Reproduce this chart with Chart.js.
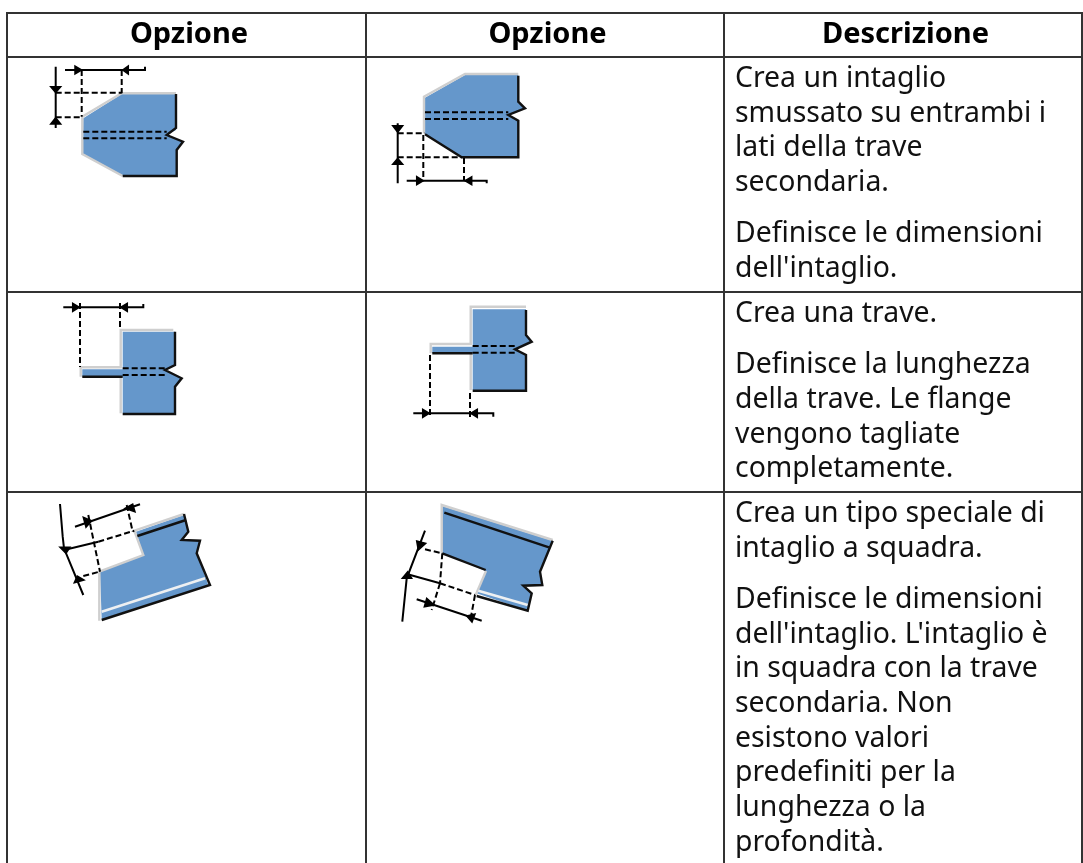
<!DOCTYPE html>
<html>
<head>
<meta charset="utf-8">
<title>Opzione</title>
<script src="https://cdn.jsdelivr.net/npm/chart.js@4/dist/chart.umd.min.js"></script>
<style>
  html, body { margin: 0; padding: 0; background: #fff; overflow: hidden; }
  #page { position: relative; width: 1083px; height: 863px; overflow: hidden; }
  #grid { position: absolute; left: 6px; top: 12px; border-collapse: collapse; table-layout: fixed; width: 1075px;
          font-family: "Noto Sans", sans-serif; font-size: 28.4px; line-height: 34.7px; color: #111; filter: blur(0.3px); }
  #grid th, #grid td { border: 2px solid #333; padding: 0; vertical-align: top; overflow: hidden; }
  #grid th { font-weight: bold; font-size: 29px; text-align: center; height: 42px; line-height: 35px; color: #000; padding-left: 5px; }
  #grid td p { margin: 16.5px 0 0 10px; white-space: nowrap; }
  #grid td p:first-child { margin-top: 1px; }
  #chart { position: absolute; left: 0; top: 0; filter: blur(0.5px); }
</style>
</head>
<body>
<div id="page">
  <table id="grid"></table>
  <canvas id="chart" width="1083" height="863"></canvas>
</div>
<script>
// Table text
const headers = ["Opzione", "Opzione", "Descrizione"];
const columnWidths = [359, 358, 358];
const rowHeights = [235, 200, 400];
const descriptions = [
  [["Crea un intaglio", "smussato su entrambi i", "lati della trave", "secondaria."],
   ["Definisce le dimensioni", "dell'intaglio."]],
  [["Crea una trave."],
   ["Definisce la lunghezza", "della trave. Le flange", "vengono tagliate", "completamente."]],
  [["Crea un tipo speciale di", "intaglio a squadra."],
   ["Definisce le dimensioni", "dell'intaglio. L'intaglio è", "in squadra con la trave", "secondaria. Non", "esistono valori", "predefiniti per la", "lunghezza o la", "profondità."]]
];

// Blue beam bodies, one per diagram
const beamBodies = [
  [[83.3,118.3],[121.7,94],[176,94],[176,130],[166.7,135],[183.3,141.7],[176.7,150],[176.7,176],[122.7,176],[82.7,154]],
  [[425,97.7],[465,75],[518.3,75],[518.3,103.3],[525,108.3],[508.3,115],[518.3,120.7],[518.3,156.7],[461.7,156.7],[425,134.3]],
  [[122.7,331.7],[175,331.7],[175,365],[165,370],[181.7,378.3],[175,386.7],[175,413.3],[122.7,413.3],[122.7,376.7],[82.3,376.7],[82.3,369.3],[122.7,369.3]],
  [[472.7,309.3],[526,309.3],[526,335],[531.7,341.7],[515,349.3],[526,355],[526,390],[472.7,390],[472.7,353.3],[432.3,353.3],[432.3,346.7],[472.7,346.7]],
  [[136,531.7],[184,515],[188.3,531.7],[181.7,540],[200,540.7],[196.7,553.3],[208.3,585],[101.7,619.3],[100,571.7],[143.3,555]],
  [[442.3,506],[552.7,540.7],[539,571.7],[542.3,585],[523.3,585.7],[531.7,593.3],[527.7,610.7],[476.7,593.3],[485.7,571],[442.3,553.3]]
];

// Light highlight edges
const lightEdges = [
  [[176,93.3],[121.7,93.3],[82.3,116.7],[82.3,154],[122.7,176]],
  [[518.3,74],[465,74],[424,96.7],[424,133.3]],
  [[120.7,413.3],[120.7,376.7]],
  [[80.7,376.7],[80.7,367.3],[120.7,367.3],[120.7,330],[173.3,330]],
  [[470.7,390],[470.7,354]],
  [[430.7,353.3],[430.7,344],[470.7,344],[470.7,306.7],[526,306.7]],
  [[184,514],[134.3,530.7],[143.3,555],[99.3,571.7],[99.3,620.7]],
  [[441.7,553.3],[441.7,505],[552.7,540]],
  [[486,571],[475.7,595]]
];

// White stripes across the rotated beams
const whiteStripes = [
  [[101.7,611.7],[205,578.3]],
  [[478.3,590.7],[527.7,605]]
];

// Dark shadow edges and flange lines
const darkEdges = [
  [[176,94],[176,128],[166.7,135],[183,141.7],[176.7,150],[176.7,176],[122.7,176]],
  [[518.3,75.7],[518.3,101.7],[525,108.3],[508.3,115],[518.3,120.7],[518.3,157.3],[461.7,157.3],[425,134.3]],
  [[175,331.7],[175,365],[165,370],[181.7,378.3],[175,386.7],[175,414],[122.7,414]],
  [[82.3,376.7],[122.7,376.7]],
  [[526,310],[526,335],[531.7,341.7],[515,349.3],[526,355],[526,390.7],[472.7,390.7]],
  [[432.3,353.3],[472.7,353.3]],
  [[137.3,536],[186,520]],
  [[184,514],[188.3,531.7],[181.7,540],[200,540.7],[196.7,553.3],[210,585],[101.7,620]],
  [[444.3,512.7],[549,547.3]],
  [[442.3,553.3],[485.7,570]],
  [[552.7,540.7],[540,571.7],[542.3,585],[523.3,585.7],[531.7,593.3],[527.7,610.7],[476.7,596]]
];

// Dimension lines
const dimLines = [
  [[55.7,66.7],[55.7,128]],
  [[65,70],[145,70],[145,66.7]],
  [[397.7,123.3],[397.7,183.3]],
  [[406.7,180.7],[486.7,180.7],[486.7,183.3]],
  [[63.3,307.3],[143.3,307.3],[143.3,304]],
  [[413.3,413.3],[493.3,413.3],[493.3,416.7]],
  [[60,504],[62.7,536.7],[64,548.3],[83.3,595]],
  [[75,526.7],[140,504.3]],
  [[64,550],[98.3,541.7]],
  [[425,530.7],[406.7,578.3],[402.3,621.7]],
  [[416.7,599.3],[481.7,620.7]],
  [[406.7,574],[440,583.3]]
];

// Dashed extension lines and web lines
const dashedLines = [
  [[83.3,131.7],[166.7,131.7]],
  [[83.3,138.3],[166.7,138.3]],
  [[55.7,92.7],[121.7,92.7]],
  [[55.7,117.3],[82.3,117.3]],
  [[81.7,70],[81.7,116.7]],
  [[121.7,70],[121.7,93.3]],
  [[425,112.3],[508.3,112.3]],
  [[425,119],[508.3,119]],
  [[397.7,133.3],[425,133.3]],
  [[397.7,157.3],[461.7,157.3]],
  [[423.3,135],[423.3,180.7]],
  [[464,158],[464,180.7]],
  [[122.7,368.3],[165,368.3]],
  [[122.7,375],[165,375]],
  [[80,303],[80,367]],
  [[120,303],[120,328]],
  [[472.7,346],[515,346]],
  [[472.7,352.7],[515,352.7]],
  [[430,355],[430,417]],
  [[470,393],[470,417]],
  [[88.3,515],[100,571.7]],
  [[126.7,505],[132.7,531.7]],
  [[98.3,541.7],[134.3,530.7]],
  [[83.3,576],[99.3,571.7]],
  [[425,549.3],[442.3,553.3]],
  [[440,583.3],[475,595]],
  [[440,583.3],[431.7,610]],
  [[475,595],[471,616.7]],
  [[442.3,553.3],[440,583.3]]
];

// Arrow heads on the dimension lines
const arrowHeads = [
  [[50.7,86.7],[60.7,86.7],[55.7,92.7]],
  [[50.7,124],[60.7,124],[55.7,117.7]],
  [[75,66],[75,74],[81.7,70]],
  [[128.3,66],[128.3,74],[122.7,70]],
  [[392.7,125.7],[402.7,125.7],[397.7,132.3]],
  [[392.7,164.3],[402.7,164.3],[397.7,158.3]],
  [[416.7,176.7],[416.7,184.7],[423.3,180.7]],
  [[471.7,176.7],[471.7,184.7],[465,180.7]],
  [[72.7,303.3],[72.7,311.3],[79.3,307.3]],
  [[127.3,303.3],[127.3,311.3],[120.7,307.3]],
  [[422.7,409.3],[422.7,417.3],[429.3,413.3]],
  [[477.3,409.3],[477.3,417.3],[470.7,413.3]],
  [[60,547.3],[70,547.3],[66,553.3]],
  [[74.3,582.7],[84,580],[77.3,576]],
  [[83.3,517.3],[86,527.3],[91.7,520.7]],
  [[125,508.3],[132.7,504],[135,511.7]],
  [[416.7,541],[425.7,543.3],[418.3,550]],
  [[407.7,571.7],[402.3,578.3],[411.7,578.3]],
  [[434.3,605],[426.7,598.3],[424.3,606.7]],
  [[466.7,616],[475,614],[472,622]]
];

// Build the table
function buildTable() {
  const table = document.getElementById("grid");
  const colgroup = document.createElement("colgroup");
  columnWidths.forEach(w => {
    const col = document.createElement("col");
    col.style.width = w + "px";
    colgroup.appendChild(col);
  });
  table.appendChild(colgroup);

  const head = table.insertRow();
  headers.forEach(h => {
    const th = document.createElement("th");
    th.textContent = h;
    head.appendChild(th);
  });

  descriptions.forEach((paragraphs, i) => {
    const row = table.insertRow();
    row.style.height = rowHeights[i] + "px";
    row.insertCell();
    row.insertCell();
    const cell = row.insertCell();
    paragraphs.forEach(lines => {
      const p = document.createElement("p");
      p.innerHTML = lines.join("<br>");
      cell.appendChild(p);
    });
  });
}

function toPoints(pairs) {
  return pairs.map(p => ({ x: p[0], y: p[1] }));
}

function lineDatasets(list, color, width, dash) {
  return list.map(pairs => ({
    data: toPoints(pairs),
    showLine: true,
    borderColor: color,
    borderWidth: width,
    borderDash: dash || [],
    pointRadius: 0,
    tension: 0
  }));
}

function fillDatasets(list, color, edge) {
  return list.map(pairs => ({
    data: toPoints(pairs),
    showLine: false,
    pointRadius: 0,
    polygonFill: color,
    polygonEdge: edge || 0
  }));
}

// Line elements can't fill a closed outline, so paint those from the laid out points
const polygonFillPlugin = {
  id: "polygonFill",
  beforeDatasetsDraw(chart) {
    const ctx = chart.ctx;
    chart.data.datasets.forEach((ds, i) => {
      if (!ds.polygonFill) return;
      const points = chart.getDatasetMeta(i).data;
      ctx.save();
      ctx.fillStyle = ds.polygonFill;
      ctx.beginPath();
      points.forEach((pt, n) => n ? ctx.lineTo(pt.x, pt.y) : ctx.moveTo(pt.x, pt.y));
      ctx.closePath();
      ctx.fill();
      if (ds.polygonEdge) {
        ctx.strokeStyle = ds.polygonFill;
        ctx.lineWidth = ds.polygonEdge;
        ctx.stroke();
      }
      ctx.restore();
    });
  }
};

buildTable();

// Datasets draw last to first, so the top layer goes first
new Chart(document.getElementById("chart"), {
  type: "scatter",
  data: {
    datasets: [
      ...lineDatasets(dimLines, "#000", 2),
      ...lineDatasets(dashedLines, "#000", 2, [6, 3]),
      ...lineDatasets(darkEdges, "#111", 2.4),
      ...lineDatasets(whiteStripes, "#eef0f2", 2.6),
      ...lineDatasets(lightEdges, "#cfcfcf", 2.4),
      ...fillDatasets(beamBodies, "#6597cb"),
      ...fillDatasets(arrowHeads, "#000", 1.5)
    ]
  },
  options: {
    responsive: false,
    animation: false,
    layout: { padding: 0 },
    plugins: { legend: { display: false }, tooltip: { enabled: false } },
    scales: {
      x: { type: "linear", display: false, min: 0, max: 1083 },
      y: { type: "linear", display: false, min: 0, max: 863, reverse: true }
    }
  },
  plugins: [polygonFillPlugin]
});
</script>
</body>
</html>
